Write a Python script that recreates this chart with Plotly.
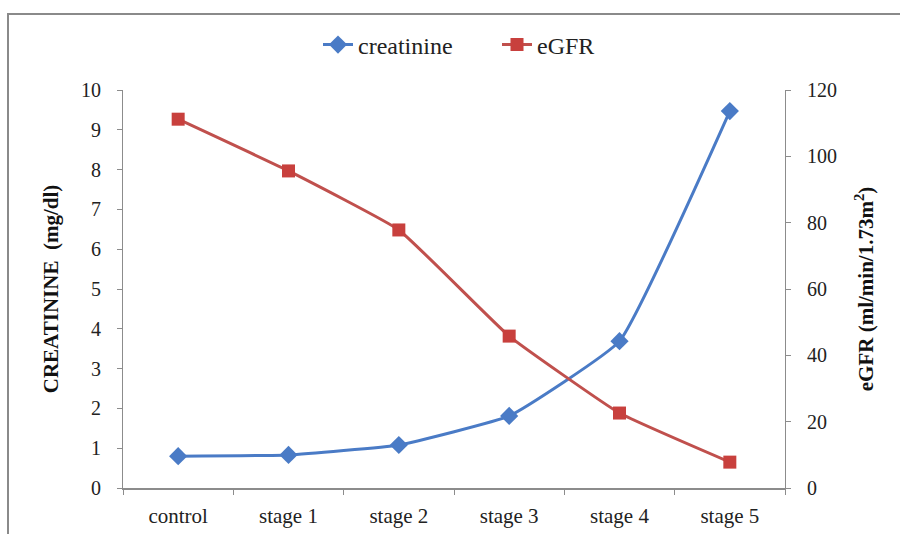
import plotly.graph_objects as go

categories = ["control", "stage 1", "stage 2", "stage 3", "stage 4", "stage 5"]
creatinine = [0.80, 0.83, 1.08, 1.81, 3.69, 9.47]
egfr = [111.2, 95.6, 77.8, 45.8, 22.6, 7.8]
left_ticks = list(range(0, 11))
right_ticks = list(range(0, 121, 20))

FONT = "Liberation Serif"
AX = "#8c8c8c"
TXT = "#222222"

fig = go.Figure()
fig.add_trace(go.Scatter(
    x=categories, y=creatinine, name="creatinine", mode="lines+markers",
    line=dict(color="#4a7bc6", width=3, shape="spline", smoothing=0.35),
    marker=dict(symbol="diamond", size=14, color="#4a7bc6"),
    yaxis="y"))
fig.add_trace(go.Scatter(
    x=categories, y=egfr, name="eGFR", mode="lines+markers",
    line=dict(color="#c0504d", width=3, shape="spline", smoothing=0.35),
    marker=dict(symbol="square", size=13, color="#c8403d"),
    yaxis="y2"))

fig.update_layout(
    width=900, height=534,
    margin=dict(l=123, r=115, t=90, b=46),
    paper_bgcolor="white", plot_bgcolor="white",
    font=dict(family=FONT, size=20, color=TXT),
    showlegend=True,
    legend=dict(orientation="h", x=(318 - 123) / 662, xanchor="left", y=1 - 45 / 534,
                yanchor="middle", yref="container", entrywidth=134,
                font=dict(family=FONT, size=24, color=TXT)),
    xaxis=dict(type="category", range=[-0.5, 5.5], showline=True, linecolor=AX, linewidth=2,
               ticks="outside", tickson="boundaries", ticklen=5, tickcolor=AX,
               showgrid=False, zeroline=False, ticklabelstandoff=8, automargin=False,
               tickfont=dict(family=FONT, size=21, color=TXT)),
    yaxis=dict(range=[0, 10], tickvals=left_ticks, showline=True, linecolor=AX, linewidth=1,
               ticks="outside", ticklen=5, tickcolor=AX, showgrid=False, zeroline=False,
               ticklabelstandoff=12, automargin=False,
               tickfont=dict(family=FONT, size=20, color=TXT),
               title=dict(text="<b>CREATININE  (mg/dl)</b>", standoff=16,
                          font=dict(family=FONT, size=21, color="#111"))),
    yaxis2=dict(range=[0, 120], tickvals=right_ticks, overlaying="y", side="right",
                showline=True, linecolor=AX, linewidth=1, ticks="outside", ticklen=5,
                tickcolor=AX, showgrid=False, zeroline=False, ticklabelstandoff=12,
                automargin=False,
                tickfont=dict(family=FONT, size=20, color=TXT),
                title=dict(text="<b>eGFR (ml/min/1.73m<sup>2</sup>)</b>", standoff=22,
                           font=dict(family=FONT, size=21, color="#111"))),
    shapes=[dict(type="rect", xref="paper", yref="paper",
                 x0=-115 / 662, x1=1.5, y0=-0.5, y1=1 + 76 / 398,
                 line=dict(color="#8a8a8a", width=2), fillcolor="rgba(0,0,0,0)", layer="below")],
)

fig.write_html("out.html")
